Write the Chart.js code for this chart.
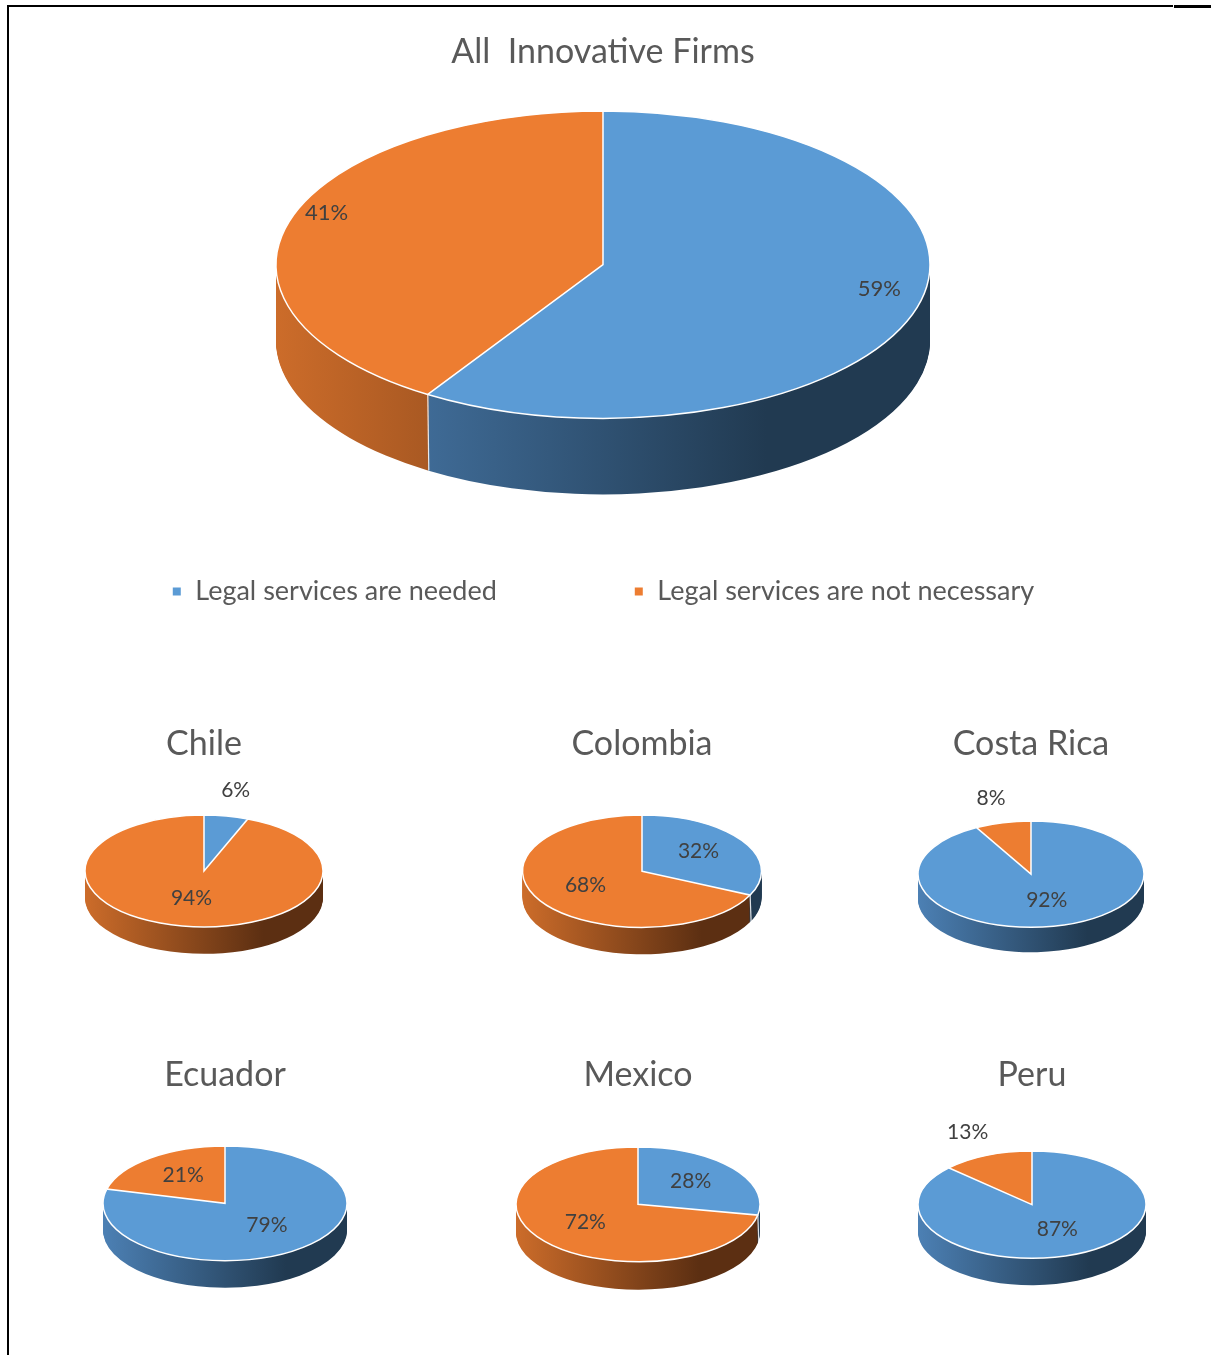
<!DOCTYPE html>
<html>
<head>
<meta charset="utf-8">
<script src="https://cdn.jsdelivr.net/npm/chart.js@4.4.1/dist/chart.umd.min.js"></script>
<style>
  body { margin: 0; background: #fff; width: 1211px; height: 1355px; position: relative; overflow: hidden; }
  .line { position: absolute; background: #000; }
  canvas { position: absolute; }
</style>
</head>
<body>
<div class="line" style="left:7px;top:5px;width:2px;height:1350px"></div>
<div class="line" style="left:7px;top:5px;width:1166px;height:2px"></div>
<div class="line" style="left:1174px;top:5px;width:37px;height:3px"></div>

<canvas id="main" width="1211" height="615" style="left:0;top:0"></canvas>
<canvas id="c0" width="370" height="300"></canvas>
<canvas id="c1" width="370" height="300"></canvas>
<canvas id="c2" width="370" height="300"></canvas>
<canvas id="c3" width="370" height="300"></canvas>
<canvas id="c4" width="370" height="300"></canvas>
<canvas id="c5" width="370" height="300"></canvas>

<script>
// ---- data ----
const mainTitle = "All  Innovative Firms";
const legendLabels = ["Legal services are needed", "Legal services are not necessary"];
const mainValues = [59, 41];

const countries = ["Chile", "Colombia", "Costa Rica", "Ecuador", "Mexico", "Peru"];
const neededPct = [6, 32, 92, 79, 28, 87];
const notNecessaryPct = [94, 68, 8, 21, 72, 13];

// ---- style ----
const FONT = "Lato, 'Open Sans', sans-serif";
const BLUE = "#5B9BD5";
const ORANGE = "#ED7D31";
const SIDE = [["#4C80B4", "#213A51"], ["#CC6C2A", "#5C2F12"]];
const TITLE_SIZE = 34;

// where each small pie sits on the page: centre x, title y, top of pie, x radius, depth
const smallLayout = [
  { cx: 204,  titleY: 744,  top: 815,  rx: 119,   depth: 27 },
  { cx: 642,  titleY: 744,  top: 815,  rx: 119.5, depth: 27 },
  { cx: 1031, titleY: 744,  top: 821,  rx: 113,   depth: 25 },
  { cx: 225,  titleY: 1075, top: 1146, rx: 122,   depth: 27 },
  { cx: 638,  titleY: 1075, top: 1147, rx: 122,   depth: 28 },
  { cx: 1032, titleY: 1075, top: 1151, rx: 114,   depth: 27 }
];

// draws the arcs of a pie as a tilted disc with a side wall
const pie3d = {
  id: "pie3d",
  beforeDatasetsDraw(chart, args, opts) {
    const ctx = chart.ctx;
    const area = chart.chartArea;
    const arcs = chart.getDatasetMeta(0).data;
    const values = chart.data.datasets[0].data;
    const rx = opts.rx;
    const ry = rx * opts.tilt;
    const cx = (area.left + area.right) / 2;
    const cy = area.top + ry;
    const R = arcs[0].outerRadius;
    const ax = arcs[0].x, ay = arcs[0].y;

    const place = (dy) => {
      ctx.translate(cx, cy + dy);
      ctx.scale(rx / R, ry / R);
      ctx.translate(-ax, -ay);
    };
    const drawWith = (arc, extra) => {
      const saved = arc.options;
      arc.options = Object.assign({}, saved, extra);
      arc.draw(ctx);
      arc.options = saved;
    };

    // side wall, layer by layer from the bottom up
    for (let d = opts.depth; d >= 1; d--) {
      ctx.save();
      place(d);
      arcs.forEach((arc, i) => {
        const g = ctx.createLinearGradient(ax - R, 0, ax + R, 0);
        g.addColorStop(0, SIDE[i][0]);
        g.addColorStop(0.75, SIDE[i][1]);
        g.addColorStop(1, SIDE[i][1]);
        drawWith(arc, { backgroundColor: g, borderWidth: 0 });
      });
      ctx.restore();
    }

    // thin light seam where slices meet on the front wall
    ctx.save();
    ctx.strokeStyle = "rgba(255,255,255,0.85)";
    ctx.lineWidth = 1.2;
    arcs.forEach(arc => {
      const a = arc.startAngle;
      if (Math.sin(a) > 0.05) {
        const x = cx + rx * Math.cos(a);
        const y = cy + ry * Math.sin(a);
        ctx.beginPath();
        ctx.moveTo(x, y);
        ctx.lineTo(x + 1, y + opts.depth);
        ctx.stroke();
      }
    });
    ctx.restore();

    // top face
    ctx.save();
    place(0);
    arcs.forEach(arc => drawWith(arc, { borderWidth: 0 }));
    ctx.beginPath();
    arcs.forEach(arc => {
      ctx.moveTo(ax, ay);
      ctx.arc(ax, ay, R, arc.startAngle, arc.endAngle);
      ctx.closePath();
    });
    ctx.restore();
    ctx.strokeStyle = "#fff";
    ctx.lineWidth = 1.5;
    ctx.stroke();

    // percentage labels
    ctx.save();
    ctx.fillStyle = "#404040";
    ctx.font = opts.labelSize + "px " + FONT;
    ctx.textAlign = "center";
    ctx.textBaseline = "middle";
    arcs.forEach((arc, i) => {
      const mid = (arc.startAngle + arc.endAngle) / 2;
      const rho = values[i] < 15 ? opts.outerLabel : opts.innerLabel;
      const x = cx + rx * rho * Math.cos(mid);
      const y = cy + ry * rho * Math.sin(mid) - opts.labelLift;
      ctx.fillText(values[i] + "%", x, y);
    });
    ctx.restore();
    return false;
  }
};

function titleOpts(text, bottom) {
  return {
    display: true,
    text: text,
    color: "#595959",
    font: { family: FONT, size: TITLE_SIZE, weight: "normal" },
    padding: { top: 52 - TITLE_SIZE * 0.6, bottom: bottom }
  };
}

// ---- main chart ----
new Chart(document.getElementById("main"), {
  type: "pie",
  data: {
    labels: legendLabels,
    datasets: [{ data: mainValues, backgroundColor: [BLUE, ORANGE] }]
  },
  options: {
    responsive: false,
    animation: false,
    events: [],
    layout: { padding: { left: 0, right: 5, top: 0, bottom: 0 } },
    plugins: {
      title: titleOpts(mainTitle, 38.6),
      legend: {
        position: "bottom",
        labels: {
          boxWidth: 10,
          boxHeight: 10,
          padding: 137,
          color: "#595959",
          font: { family: FONT, size: 27 }
        }
      },
      tooltip: { enabled: false },
      pie3d: { rx: 327, tilt: 0.47, depth: 76, innerLabel: 0.88, outerLabel: 1.4, labelSize: 22, labelLift: 14 }
    }
  },
  plugins: [pie3d]
});

// ---- country charts ----
countries.forEach((name, i) => {
  const lay = smallLayout[i];
  const canvas = document.getElementById("c" + i);
  const top = lay.titleY - 52;
  canvas.style.left = (lay.cx - 185) + "px";
  canvas.style.top = top + "px";
  new Chart(canvas, {
    type: "pie",
    data: {
      labels: legendLabels,
      datasets: [{ data: [neededPct[i], notNecessaryPct[i]], backgroundColor: [BLUE, ORANGE] }]
    },
    options: {
      responsive: false,
      animation: false,
      events: [],
      plugins: {
        title: titleOpts(name, lay.top - top - 72.4),
        legend: { display: false },
        tooltip: { enabled: false },
        pie3d: { rx: lay.rx, tilt: 0.47, depth: lay.depth, innerLabel: 0.56, outerLabel: 1.42, labelSize: 21, labelLift: 3 }
      }
    },
    plugins: [pie3d]
  });
});
</script>
</body>
</html>
